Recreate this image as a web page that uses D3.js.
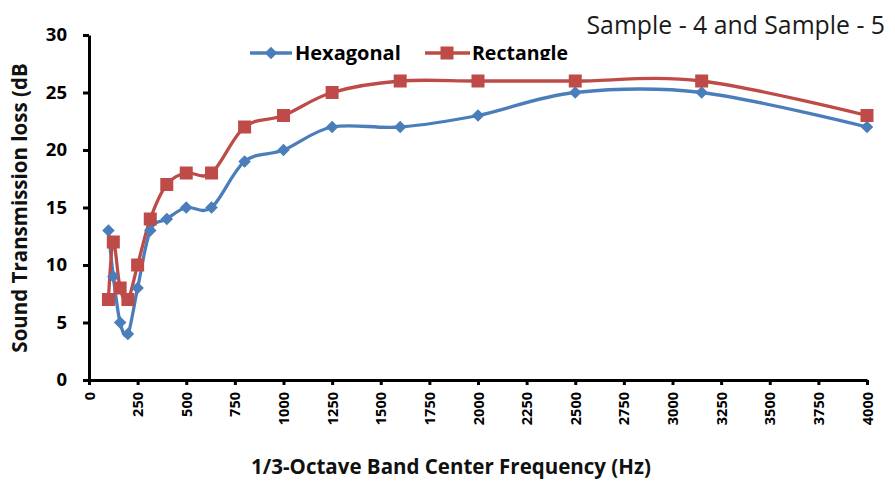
<!DOCTYPE html>
<html><head><meta charset="utf-8">
<script src="https://cdn.jsdelivr.net/npm/d3@7"></script>
<style>
body{margin:0;background:#fff;}
svg{display:block;font-family:"Open Sans",sans-serif;}
</style></head>
<body><svg id="c" width="895" height="494"></svg>
<script>
const frequencies = [100,125,160,200,250,315,400,500,630,800,1000,1250,1600,2000,2500,3150,4000];
const hexagonal  = [13,9,5,4,8,13,14,15,15,19,20,22,22,23,25,25,22];
const rectangle  = [7,12,8,7,10,14,17,18,18,22,23,25,26,26,26,26,23];
const xTicks = [0,250,500,750,1000,1250,1500,1750,2000,2250,2500,2750,3000,3250,3500,3750,4000];
const yTicks = [0,5,10,15,20,25,30];
const seriesNames = ["Hexagonal","Rectangle"];
const colors = ["#4a7ebb","#be4b48"];
const titleText = "Sample - 4 and Sample - 5";
const xTitle = "1/3-Octave Band Center Frequency (Hz)";
const yTitle = "Sound Transmission loss (dB";

const svg = d3.select("#c");
const x = d3.scaleLinear().domain([0,4000]).range([89,867]);
const y = d3.scaleLinear().domain([0,30]).range([380,35]);

// axes
const xa = svg.append("g").attr("transform","translate(0,380)")
  .call(d3.axisBottom(x).tickValues(xTicks).tickFormat(d3.format("d")).tickSize(5).tickSizeOuter(0).tickPadding(6));
xa.select(".domain").attr("stroke","#000").attr("stroke-width",3);
xa.selectAll(".tick line").attr("stroke","#000").attr("stroke-width",3);
xa.selectAll(".tick text").attr("transform","rotate(-90)")
  .attr("text-anchor","end").attr("x",-12).attr("y",0).attr("dy","0.35em")
  .attr("font-size",14.5).attr("font-weight","bold").attr("font-family","Open Sans").attr("fill","#000");

const ya = svg.append("g").attr("transform","translate(89,0)")
  .call(d3.axisLeft(y).tickValues(yTicks).tickSize(6).tickSizeOuter(0).tickPadding(16));
ya.select(".domain").attr("stroke","#000").attr("stroke-width",3);
ya.selectAll(".tick line").attr("stroke","#000").attr("stroke-width",3);
ya.selectAll(".tick text").attr("font-size",18.5).attr("font-weight","bold")
  .attr("font-family","Open Sans").attr("fill","#000");

// lines
const data = [hexagonal, rectangle];
const line = d3.line().x((d,i)=>x(frequencies[i])).y(d=>y(d)).curve(d3.curveCardinal.tension(0));
data.forEach((vals,s)=>{
  svg.append("path").datum(vals).attr("d",line).attr("fill","none")
    .attr("stroke",colors[s]).attr("stroke-width",3.3);
});
const diamond = d3.symbol().type(d3.symbolDiamond2).size(100);
// markers
svg.append("g").selectAll("path").data(hexagonal).join("path")
  .attr("d",diamond).attr("transform",(d,i)=>`translate(${x(frequencies[i])},${y(d)})`)
  .attr("fill",colors[0]);
svg.append("g").selectAll("rect").data(rectangle).join("rect")
  .attr("x",(d,i)=>x(frequencies[i])-6.5).attr("y",d=>y(d)-6.5)
  .attr("width",13).attr("height",13).attr("fill",colors[1]);

// legend
const leg = svg.append("g");
leg.append("line").attr("x1",250).attr("x2",292).attr("y1",53).attr("y2",53).attr("stroke",colors[0]).attr("stroke-width",3.3);
leg.append("path").attr("d",diamond).attr("transform","translate(271,53)").attr("fill",colors[0]);
leg.append("text").attr("x",295).attr("y",60).text(seriesNames[0])
  .attr("font-size",20).attr("font-weight","bold").attr("fill","#000");
leg.append("line").attr("x1",425).attr("x2",470).attr("y1",53).attr("y2",53).attr("stroke",colors[1]).attr("stroke-width",3.3);
leg.append("rect").attr("x",440.5).attr("y",46.5).attr("width",13).attr("height",13).attr("fill",colors[1]);
svg.append("clipPath").attr("id","lc").append("rect").attr("x",460).attr("y",30).attr("width",150).attr("height",30);
leg.append("text").attr("x",472).attr("y",60).attr("clip-path","url(#lc)").text(seriesNames[1])
  .attr("font-size",19.5).attr("font-weight","bold").attr("fill","#000");

// titles
svg.append("text").attr("x",885).attr("y",34).attr("text-anchor","end")
  .attr("font-size",24.8).attr("font-weight",500).attr("fill","#1a1a1a").text(titleText);
svg.append("text").attr("x",451).attr("y",474).attr("text-anchor","middle")
  .attr("font-size",20.5).attr("font-weight","bold").attr("fill","#111").text(xTitle);
svg.append("text").attr("transform","translate(27,208) rotate(-90)").attr("text-anchor","middle")
  .attr("font-size",20.5).attr("font-weight","bold").attr("fill","#111").text(yTitle);
</script></body></html>
